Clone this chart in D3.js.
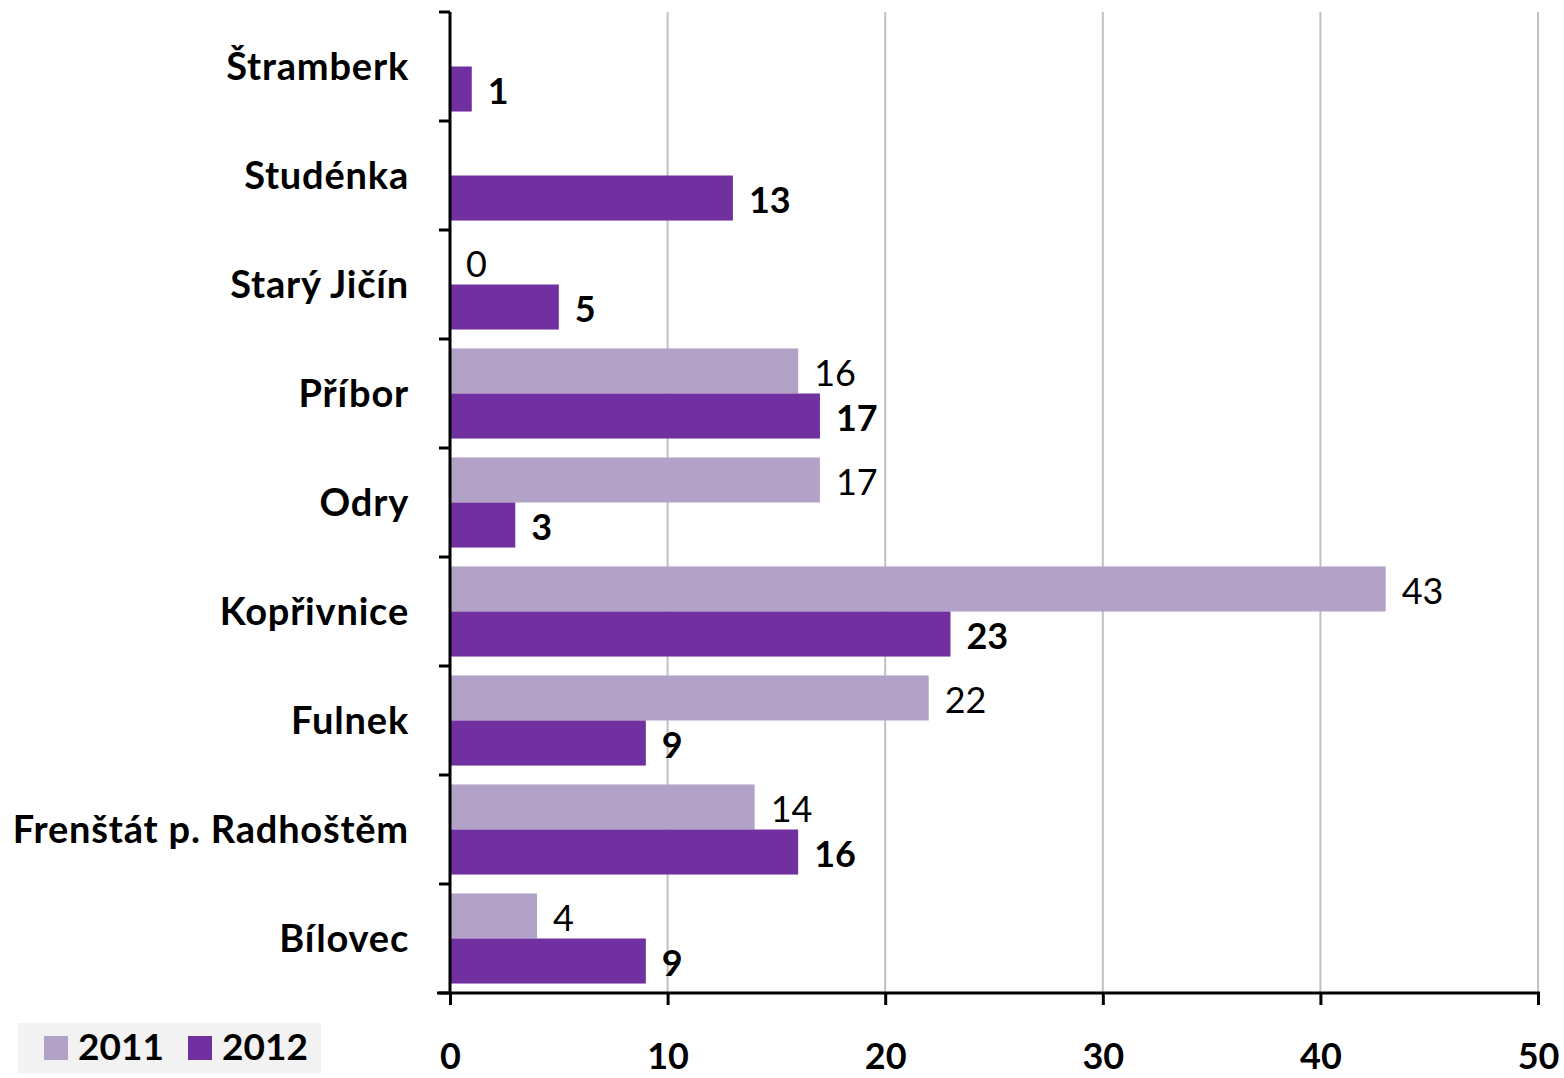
<!DOCTYPE html>
<html>
<head>
<meta charset="utf-8">
<script src="https://cdn.jsdelivr.net/npm/d3@7"></script>
<style>
  body { margin: 0; background: #fff; }
  text { font-family: Lato, "Open Sans", sans-serif; }
</style>
</head>
<body>
<svg id="chart" width="1564" height="1078"></svg>
<script>
// data
const categories = ["Štramberk", "Studénka", "Starý Jičín", "Příbor", "Odry", "Kopřivnice", "Fulnek", "Frenštát p. Radhoštěm", "Bílovec"];
const series = ["2011", "2012"];
const values2011 = [null, null, 0, 16, 17, 43, 22, 14, 4];
const values2012 = [1, 13, 5, 17, 3, 23, 9, 16, 9];
const xTicks = [0, 10, 20, 30, 40, 50];

const colors = { "2011": "#b3a2c7", "2012": "#7030a0" };

const svg = d3.select("#chart");
const plotLeft = 450, plotRight = 1538, plotTop = 12, plotBottom = 993;

const x = d3.scaleLinear().domain([0, 50]).range([plotLeft, plotRight]);
const y = d3.scaleBand().domain(categories).range([plotTop, plotBottom]).paddingInner(0).paddingOuter(0);
const inner = d3.scaleBand().domain(series).range([0, y.bandwidth()]).paddingInner(0).paddingOuter(0.21);

// gridlines
svg.append("g")
  .selectAll("line")
  .data(xTicks.slice(1))
  .join("line")
  .attr("x1", d => x(d)).attr("x2", d => x(d))
  .attr("y1", plotTop).attr("y2", plotBottom)
  .attr("stroke", "#c0c0c0").attr("stroke-width", 2);

// bars
const rows = [];
categories.forEach((c, i) => {
  rows.push({ cat: c, s: "2011", v: values2011[i] });
  rows.push({ cat: c, s: "2012", v: values2012[i] });
});

svg.append("g")
  .selectAll("rect")
  .data(rows.filter(d => d.v !== null))
  .join("rect")
  .attr("x", x(0))
  .attr("y", d => y(d.cat) + inner(d.s))
  .attr("width", d => x(d.v) - x(0))
  .attr("height", inner.bandwidth())
  .attr("fill", d => colors[d.s]);

// value labels (2012 in bold)
svg.append("g")
  .selectAll("text")
  .data(rows.filter(d => d.v !== null))
  .join("text")
  .attr("x", d => x(d.v) + 16)
  .attr("y", d => y(d.cat) + inner(d.s) + inner.bandwidth() / 2 + 2)
  .attr("dy", "0.36em")
  .attr("font-size", 36)
  .attr("font-weight", d => d.s === "2012" ? "bold" : "normal")
  .attr("fill", "#000")
  .text(d => d.v);

// y axis
const yAxis = svg.append("g")
  .attr("transform", `translate(${plotLeft},0)`);
yAxis.append("line")
  .attr("x1", 0).attr("x2", 0).attr("y1", plotTop).attr("y2", plotBottom)
  .attr("stroke", "#000").attr("stroke-width", 3);
yAxis.selectAll("line.tick")
  .data(categories.concat(["_end"]))
  .join("line")
  .attr("class", "tick")
  .attr("x1", -11).attr("x2", 0)
  .attr("y1", (d, i) => plotTop + i * y.step()).attr("y2", (d, i) => plotTop + i * y.step())
  .attr("stroke", "#000").attr("stroke-width", 3);
yAxis.selectAll("text")
  .data(categories)
  .join("text")
  .attr("x", -41)
  .attr("y", d => y(d) + y.bandwidth() / 2)
  .attr("dy", "0.36em")
  .attr("text-anchor", "end")
  .attr("font-size", 38)
  .attr("letter-spacing", 0.8)
  .attr("font-weight", "bold")
  .text(d => d);

// x axis
const xAxis = svg.append("g")
  .attr("transform", `translate(0,${plotBottom})`)
  .call(d3.axisBottom(x).tickValues(xTicks).tickSize(12).tickSizeOuter(0));
xAxis.select(".domain").attr("stroke-width", 3).attr("d", `M${plotLeft - 13},0H${plotRight + 2}`);
xAxis.selectAll(".tick line").attr("stroke-width", 3);
xAxis.selectAll(".tick text")
  .attr("y", 63)
  .attr("dy", "0.36em")
  .attr("font-size", 36)
  .attr("font-weight", "bold")
  .attr("font-family", "Lato, 'Open Sans', sans-serif")
  .attr("fill", "#000");

// legend
const legend = svg.append("g");
legend.append("rect")
  .attr("x", 18).attr("y", 1023).attr("width", 303).attr("height", 50)
  .attr("fill", "#f2f2f2");
const legX = [44, 188];
series.forEach((s, i) => {
  legend.append("rect")
    .attr("x", legX[i]).attr("y", 1036).attr("width", 24).attr("height", 24)
    .attr("fill", colors[s]);
  legend.append("text")
    .attr("x", legX[i] + 34).attr("y", 1047)
    .attr("dy", "0.36em")
    .attr("font-size", 37)
    .attr("font-weight", "bold")
    .text(s);
});
</script>
</body>
</html>
